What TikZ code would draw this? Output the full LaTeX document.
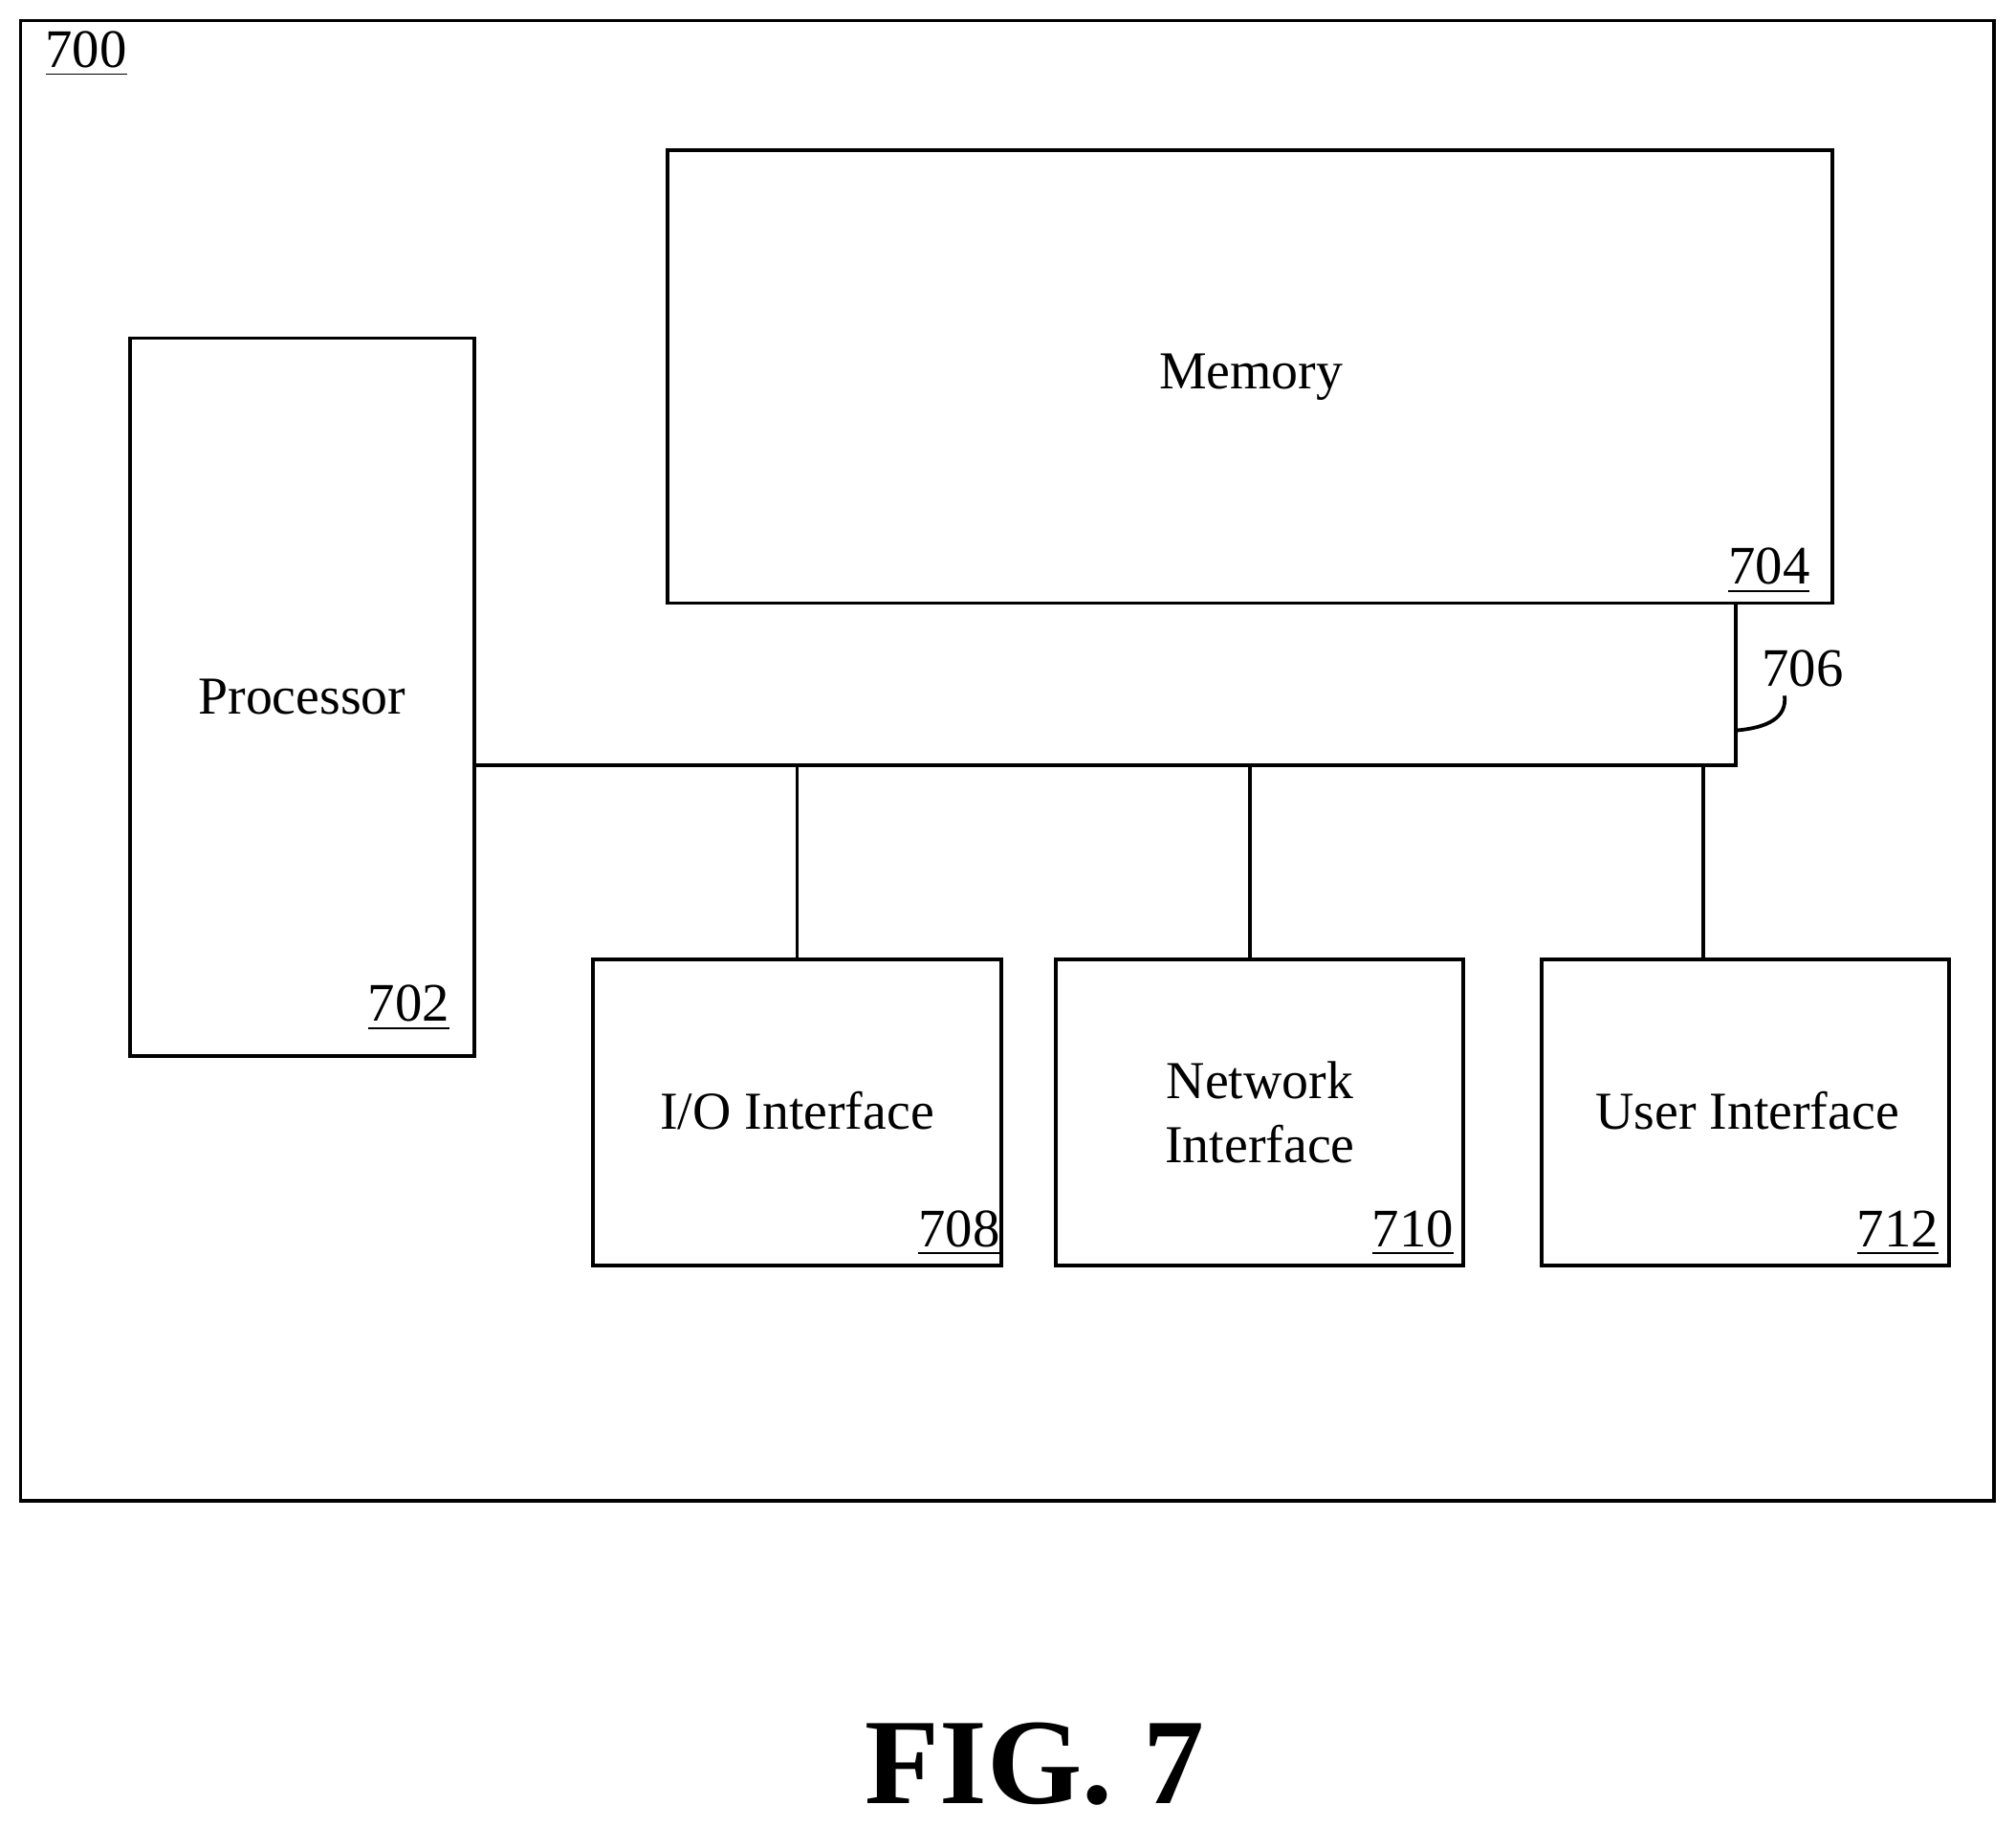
\documentclass[tikz,border=0pt]{standalone}
\usepackage{fontspec}
\setmainfont{Liberation Serif}
\usetikzlibrary{positioning}
\tikzset{
  box/.style={draw,thick,minimum width=0},
  num/.style={font=\fontsize{12}{14}\selectfont},
  txt/.style={font=\fontsize{11.8}{14}\selectfont,align=center}
}
\begin{document}
\begin{tikzpicture}[x=0.01cm,y=-0.01cm]
\useasboundingbox (0,0) rectangle (1568,1420);

% boxes
\draw[box] (16,16) rectangle (1551,1167);
\draw[box] (519,117) rectangle (1425,469);
\draw[box] (101,263) rectangle (369,821);
\draw[box] (461,746) rectangle (779,984);
\draw[box] (821,746) rectangle (1138,984);
\draw[box] (1199,746) rectangle (1516,984);

% texts
\node (SYS) [num] at (67,42) {\underline{700}};
\node (MEM) [txt] at (973,293) {Memory};
\node (MEMN) [num] at (1376,444) {\underline{704}};
\node (PROC) [txt] at (235,542) {Processor};
\node (PROCN) [num] at (318,784) {\underline{702}};
\node (IO) [txt] at (620,864) {I/O Interface};
\node (ION) [num] at (746,959) {\underline{708}};
\node (NET) [txt] at (980,865) {Network\\Interface};
\node (NETN) [num] at (1099,959) {\underline{710}};
\node (USR) [txt] at (1359,864) {User Interface};
\node (USRN) [num] at (1476,959) {\underline{712}};
\node (BUS) [num] at (1402,520) {706};

% bus
\coordinate (P) at (369,595);
\coordinate (B) at (1350,595);
\coordinate (M) at (1350,469);
\coordinate (L) at (1350,568);
\coordinate (T) at (1388,541);
\draw[thick] (P) -- (B) -- (M);
\draw[thick] (620,595) -- (620,746);
\draw[thick] (972,595) -- (972,746);
\draw[thick] (1325,595) -- (1325,746);
\draw[thick] (L) .. controls (1375,566) and (1390,558) .. (T);

\node (FIG) [font=\fontsize{27}{30}\selectfont\bfseries] at (805,1372) {FIG. 7};
\end{tikzpicture}
\end{document}
